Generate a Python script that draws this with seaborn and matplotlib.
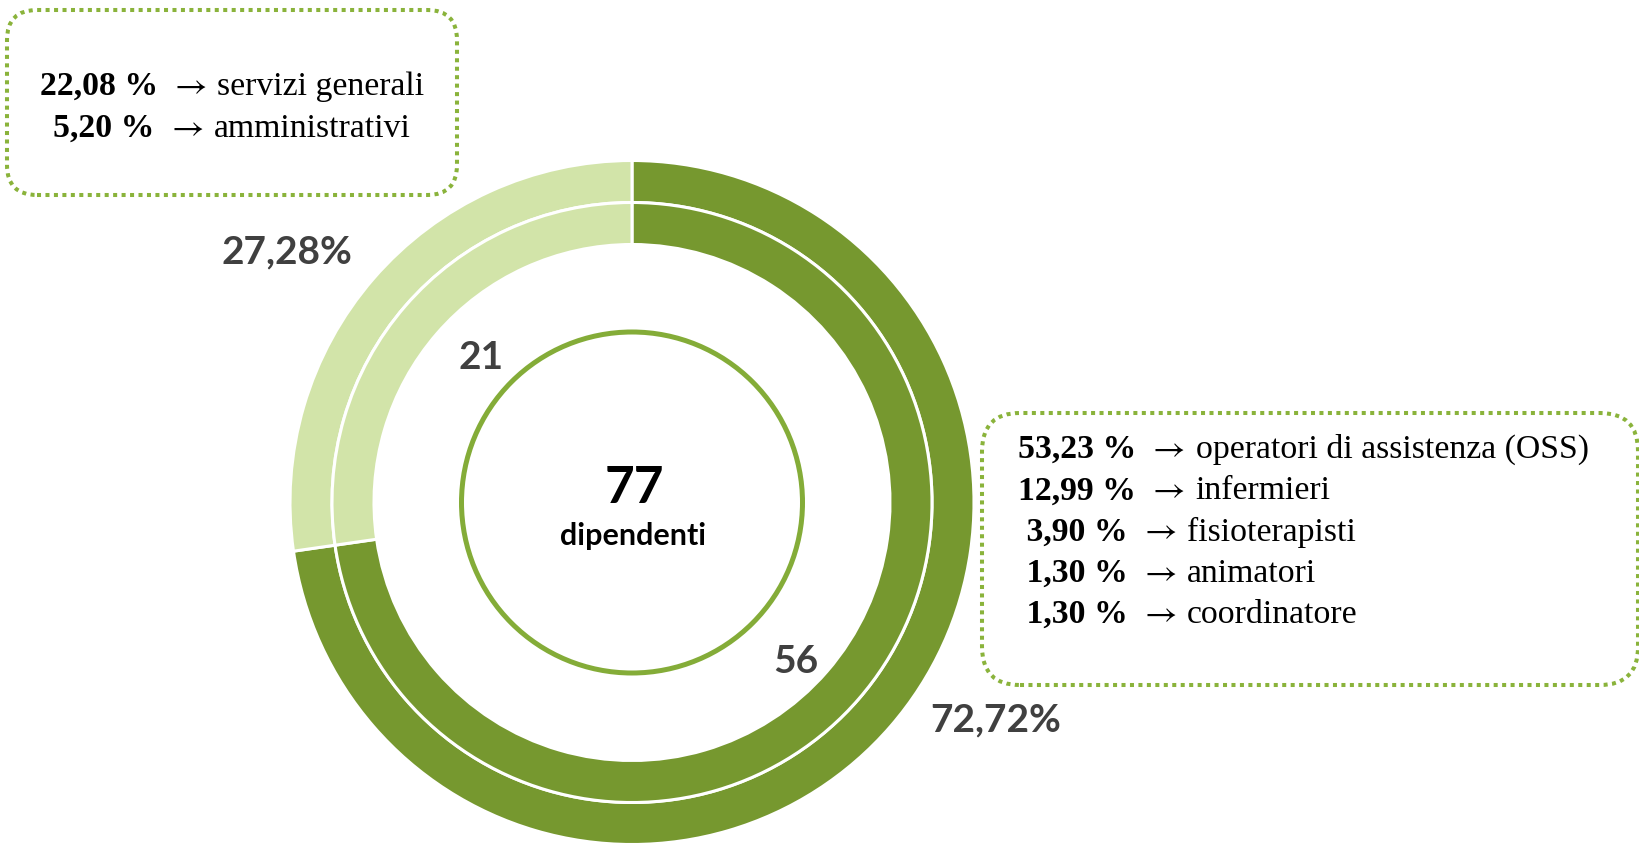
import matplotlib
matplotlib.use("Agg")
import matplotlib.pyplot as plt
from matplotlib.patches import FancyBboxPatch, Circle
import seaborn as sns

# ---------------- data ----------------
group_names = ["assistenza e sanità", "servizi generali e amministrativi"]
group_counts = [56, 21]
group_percent_labels = ["72,72%", "27,28%"]
total_value = "77"
total_caption = "dipendenti"

box1_percents = ["22,08 %", "5,20 %"]
box1_roles = ["servizi generali", "amministrativi"]

box2_percents = ["53,23 %", "12,99 %", " 3,90 %", " 1,30 %", " 1,30 %"]
box2_roles = ["operatori di assistenza (OSS)", "infermieri", "fisioterapisti",
              "animatori", "coordinatore"]

# ---------------- style ----------------
sns.set_theme(style="white")
DARK = "#76982F"
LIGHT = "#D2E4A9"
RING_LINE = "#84AC38"
BOX_LINE = "#8AB33B"
GREY = "#404040"
palette = sns.color_palette([DARK, LIGHT])

SANS = ["Lato", "DejaVu Sans"]
SERIF = ["Liberation Serif", "DejaVu Serif"]
plt.rcParams["font.family"] = SANS
plt.rcParams["mathtext.fontset"] = "stix"

W, H = 1640, 843
fig = plt.figure(figsize=(W / 100, H / 100), dpi=100)
ax = fig.add_axes([0, 0, 1, 1])

def Y(y):
    return H - y

cx, cy = 632, Y(502.5)
R_OUT, R_MID, RING_W = 342, 300, 42

wp = dict(width=RING_W, edgecolor="white", linewidth=2.2)
ax.pie(group_counts, colors=palette, radius=R_OUT, center=(cx, cy),
       startangle=90, counterclock=False, wedgeprops=wp)
ax.pie(group_counts, colors=palette, radius=R_MID, center=(cx, cy),
       startangle=90, counterclock=False, wedgeprops=wp)

ax.add_patch(Circle((cx, cy), 170.5, fill=False, ec=RING_LINE, lw=3.6))

ax.set_xlim(0, W)
ax.set_ylim(0, H)
ax.set_axis_off()

# ring labels
lab_kw = dict(color=GREY, fontsize=28, fontweight="bold", family=SANS,
              ha="center", va="baseline")
ax.text(996, Y(731), group_percent_labels[0], **lab_kw)
ax.text(286.5, Y(263), group_percent_labels[1], **lab_kw)
ax.text(796, Y(673), str(group_counts[0]), **lab_kw)
ax.text(481, Y(369), str(group_counts[1]), **lab_kw)

# centre
ax.text(634, Y(503), total_value, color="black", fontsize=37, fontweight="bold",
        family=SANS, ha="center", va="baseline")
ax.text(633.5, Y(545), total_caption, color="black", fontsize=22,
        fontweight="bold", family=SANS, ha="center", va="baseline")

# dotted rounded boxes
def dotted_box(x0, y0, x1, y1, r):
    p = FancyBboxPatch((x0, Y(y1)), x1 - x0, y1 - y0,
                       boxstyle=f"round,pad=0,rounding_size={r}",
                       fill=False, ec=BOX_LINE, lw=2.9,
                       linestyle=(0, (1, 1.1)))
    ax.add_patch(p)

dotted_box(7, 10, 457, 195, 30)
dotted_box(982, 413, 1638, 685, 38)

renderer = fig.canvas.get_renderer()
FS = 24.3
GAP1 = 11
GAP2 = 11

def composite(x, y, bold, regular, center=False):
    tb = ax.text(x, Y(y), bold, fontsize=FS, fontweight="bold", family=SERIF,
                 color="black", ha="left", va="baseline")
    ta = ax.text(x, Y(y) + 1, r"$\rightarrow$", fontsize=FS * 1.05,
                 color="black", ha="left", va="baseline")
    tr = ax.text(x, Y(y), regular, fontsize=FS, family=SERIF,
                 color="black", ha="left", va="baseline")
    wb = tb.get_window_extent(renderer=renderer).width
    wa = ta.get_window_extent(renderer=renderer).width
    wr = tr.get_window_extent(renderer=renderer).width
    start = x
    if center:
        total = wb + GAP1 + wa + GAP2 + wr
        start = x - total / 2
        tb.set_x(start)
    eb = tb.get_window_extent(renderer=renderer)
    ta.set_x(eb.x1 + GAP1)
    ea = ta.get_window_extent(renderer=renderer)
    tr.set_x(ea.x1 + GAP2)

for i, (p, r) in enumerate(zip(box1_percents, box1_roles)):
    composite(232, 95 + 42 * i, p, r, center=True)

for i, (p, r) in enumerate(zip(box2_percents, box2_roles)):
    composite(1018, 458 + 41.3 * i, p, r)

fig.savefig("out.png", dpi=100, facecolor="white")
